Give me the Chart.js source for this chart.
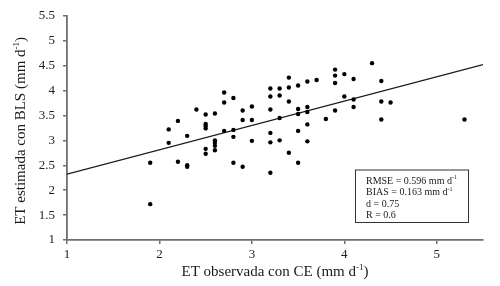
<!DOCTYPE html>
<html>
<head>
<meta charset="utf-8">
<script src="https://cdn.jsdelivr.net/npm/chart.js@4"></script>
<style>
  html, body { margin: 0; padding: 0; background: #fff; }
</style>
</head>
<body>
<canvas id="etChart" width="500" height="286"></canvas>
<script>
// ET observed with CE (x) vs ET estimated with BLS (y), mm/day
const etObserved = [
    1.9, 1.9,
    2.1, 2.1,
    2.2, 2.2,
    2.3, 2.3, 2.3,
    2.4,
    2.5, 2.5, 2.5, 2.5, 2.5, 2.5,
    2.6, 2.6, 2.6, 2.6, 2.6,
    2.7, 2.7, 2.7,
    2.8, 2.8, 2.8, 2.8,
    2.9, 2.9, 2.9,
    3.0, 3.0, 3.0,
    3.2, 3.2, 3.2, 3.2, 3.2, 3.2,
    3.3, 3.3, 3.3, 3.3,
    3.4, 3.4, 3.4, 3.4,
    3.5, 3.5, 3.5, 3.5, 3.5,
    3.6, 3.6, 3.6, 3.6, 3.6,
    3.7,
    3.8,
    3.9, 3.9, 3.9, 3.9,
    4.0, 4.0,
    4.1, 4.1, 4.1,
    4.3,
    4.4, 4.4, 4.4,
    4.5,
    5.3
];
const etEstimated = [
    2.55, 1.72,
    3.22, 2.95,
    3.39, 2.57,
    3.09, 2.50, 2.47,
    3.62,
    3.52, 3.33, 3.29, 3.24, 2.83, 2.73,
    3.54, 3.00, 2.95, 2.89, 2.80,
    3.96, 3.76, 3.19,
    3.85, 3.21, 3.07, 2.55,
    3.60, 3.41, 2.47,
    3.68, 3.41, 2.99,
    4.04, 3.88, 3.62, 3.15, 2.96, 2.35,
    4.04, 3.90, 3.45, 3.00,
    4.26, 4.06, 3.78, 2.75,
    4.10, 3.63, 3.53, 3.19, 2.55,
    4.18, 3.67, 3.57, 3.32, 2.98,
    4.21,
    3.43,
    4.42, 4.30, 4.15, 3.60,
    4.33, 3.88,
    4.23, 3.82, 3.67,
    4.55,
    4.19, 3.78, 3.42,
    3.76,
    3.42
];

// fitted line, read at both ends of the x axis
const fitX = [1, 5.5];
const fitY = [2.32, 4.52];

const xTicks = [1, 2, 3, 4, 5];
const yTicks = [1, 1.5, 2, 2.5, 3, 3.5, 4, 4.5, 5, 5.5];

const xTitle = [{ t: 'ET observada con CE (mm d' }, { t: '-1', sup: true }, { t: ')' }];
const yTitle = [{ t: 'ET estimada con BLS (mm d' }, { t: '-1', sup: true }, { t: ')' }];
const statsLines = [
    [{ t: 'RMSE = 0.596 mm d' }, { t: '-1', sup: true }],
    [{ t: 'BIAS = 0.163 mm d' }, { t: '-1', sup: true }],
    [{ t: 'd = 0.75' }],
    [{ t: 'R = 0.6' }]
];

const FONT = '"Liberation Serif", "Times New Roman", serif';

// text with a small raised part (the "-1" in d-1)
function drawRich(ctx, parts, x, y, size, align) {
    const base = size + 'px ' + FONT;
    const small = Math.round(size * 0.62) + 'px ' + FONT;
    let w = 0;
    parts.forEach(p => {
        ctx.font = p.sup ? small : base;
        w += ctx.measureText(p.t).width;
    });
    let cx = align === 'center' ? x - w / 2 : x;
    ctx.textAlign = 'left';
    ctx.textBaseline = 'middle';
    parts.forEach(p => {
        ctx.font = p.sup ? small : base;
        ctx.fillText(p.t, cx, p.sup ? y - size * 0.32 : y);
        cx += ctx.measureText(p.t).width;
    });
}

const titlesPlugin = {
    id: 'titlesAndStats',
    afterDraw(chart) {
        const ctx = chart.ctx;
        const area = chart.chartArea;
        ctx.save();
        ctx.fillStyle = '#1a1a1a';

        drawRich(ctx, xTitle, (area.left + area.right) / 2, 272, 15, 'center');

        ctx.save();
        ctx.translate(21, (area.top + area.bottom) / 2 + 3);
        ctx.rotate(-Math.PI / 2);
        drawRich(ctx, yTitle, 0, 0, 15, 'center');
        ctx.restore();

        // stats box, lower right of the plot
        const bx = area.right - 128, by = area.bottom - 70.5;
        ctx.fillStyle = '#fff';
        ctx.fillRect(bx, by, 113, 52.5);
        ctx.strokeStyle = '#333';
        ctx.lineWidth = 1;
        ctx.strokeRect(bx + 0.5, by + 0.5, 113, 52.5);
        ctx.fillStyle = '#1a1a1a';
        statsLines.forEach((line, i) => {
            drawRich(ctx, line, bx + 11, by + 11.5 + i * 11.6, 10, 'left');
        });
        ctx.restore();
    }
};

function axisOptions(min, max, tickValues, fitFn) {
    return {
        type: 'linear',
        min: min,
        max: max,
        afterBuildTicks: scale => { scale.ticks = tickValues.map(v => ({ value: v })); },
        afterFit: fitFn,
        grid: { drawOnChartArea: false, drawTicks: true, tickLength: 4, color: '#6f6f6f', lineWidth: 1.5 },
        border: { display: true, color: '#6f6f6f', width: 1.8 },
        ticks: {
            font: { family: FONT, size: 13 },
            color: '#222',
            padding: 3,
            callback: v => String(v)
        }
    };
}

const points = etObserved.map((x, i) => ({ x: x, y: etEstimated[i] }));
const fitLine = fitX.map((x, i) => ({ x: x, y: fitY[i] }));

const yAxis = axisOptions(1, 5.5, yTicks, s => { s.width = 67; });
yAxis.ticks.padding = 8;

new Chart(document.getElementById('etChart').getContext('2d'), {
    type: 'scatter',
    data: {
        datasets: [
            {
                label: 'ET',
                data: points,
                pointRadius: 2.2,
                pointHoverRadius: 2.2,
                backgroundColor: '#000',
                borderWidth: 0
            },
            {
                label: 'fit',
                type: 'line',
                data: fitLine,
                showLine: true,
                pointRadius: 0,
                borderColor: '#1a1a1a',
                borderWidth: 1.2,
                fill: false
            }
        ]
    },
    options: {
        responsive: false,
        animation: false,
        layout: { padding: { left: 0, right: 17, top: 14, bottom: 0 } },
        plugins: { legend: { display: false }, tooltip: { enabled: false } },
        scales: {
            x: axisOptions(1, 5.5, xTicks, s => { s.height = 46; }),
            y: yAxis
        }
    },
    plugins: [titlesPlugin]
});
</script>
</body>
</html>
